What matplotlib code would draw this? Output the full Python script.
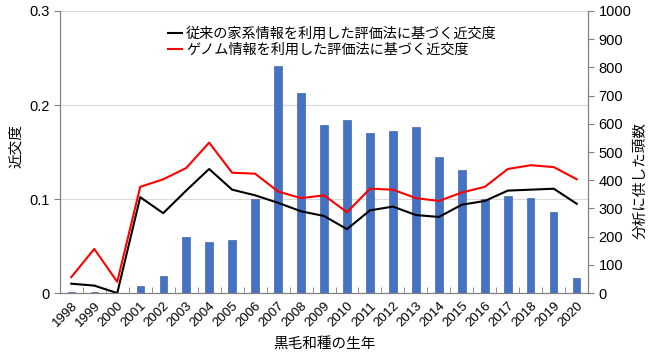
import matplotlib.pyplot as plt

plt.rcParams["font.family"] = ["Liberation Sans", "Noto Sans CJK JP", "DejaVu Sans"]

years = [str(y) for y in range(1998, 2021)]

# inbreeding coefficient, pedigree-based method
pedigree = [0.010, 0.008, 0.000, 0.102, 0.085, 0.109, 0.132, 0.110, 0.104, 0.096,
            0.087, 0.082, 0.068, 0.088, 0.092, 0.083, 0.081, 0.094, 0.098, 0.109,
            0.110, 0.111, 0.095]
# inbreeding coefficient, genome-based method
genome = [0.017, 0.047, 0.012, 0.113, 0.121, 0.133, 0.160, 0.128, 0.127, 0.108,
          0.101, 0.104, 0.086, 0.111, 0.110, 0.101, 0.098, 0.107, 0.113, 0.132,
          0.136, 0.134, 0.121]
# number of animals analysed
heads = [5, 3, 0, 25, 60, 200, 181, 188, 332, 804, 710, 596, 612, 566, 574, 588,
         482, 437, 333, 344, 338, 287, 52]

label_ped = "従来の家系情報を利用した評価法に基づく近交度"
label_gen = "ゲノム情報を利用した評価法に基づく近交度"

fig = plt.figure(figsize=(6.5, 3.54), dpi=100)
ax = fig.add_axes([0.092, 0.172, 0.813, 0.797])
ax2 = ax.twinx()

x = list(range(len(years)))

# bars on the right axis, behind the lines
ax2.bar(x, heads, width=0.32, color="#4472C4", edgecolor="#2F5597", linewidth=0.4)
ax2.set_ylim(0, 1000)
ax2.set_yticks(range(0, 1001, 100))
for v in [0.1, 0.2, 0.3]:
    ax2.axhline(v / 0.3 * 1000, color="#d9d9d9", lw=0.8, zorder=0)
ax2.set_ylabel("分析に供した頭数", fontsize=10.5, rotation=90)
ax2.yaxis.set_label_coords(1.085, 0.40)

ax.set_zorder(ax2.get_zorder() + 1)
ax.patch.set_visible(False)

ax.plot(x, pedigree, color="black", lw=1.5, label=label_ped)
ax.plot(x, genome, color="red", lw=1.5, label=label_gen)

ax.set_ylim(0, 0.3)
ax.set_yticks([0, 0.1, 0.2, 0.3])
ax.set_yticklabels(["0", "0.1", "0.2", "0.3"])
ax.set_xlim(-0.5, len(years) - 0.5)
ax.set_xticks(x)
ax.set_xticklabels(years, rotation=45, ha="right", rotation_mode="anchor")
ax.set_xticks([i + 0.5 for i in x[:-1]], minor=True)
ax.tick_params(axis="x", which="major", length=0, labelsize=9.5, pad=5)
ax.tick_params(axis="x", which="minor", direction="in", length=4, color="#808080")
ax.tick_params(axis="y", labelsize=10.5, length=4, color="#808080")
ax2.tick_params(axis="y", labelsize=10.5, length=4, color="#808080")

ax.set_ylabel("近交度", fontsize=10.5)
ax.yaxis.set_label_coords(-0.07, 0.52)
ax.set_xlabel("黒毛和種の生年", fontsize=10.5, labelpad=5)

for a in (ax, ax2):
    a.spines["top"].set_visible(False)
    for s in ("left", "right", "bottom"):
        a.spines[s].set_color("#808080")

ax.legend(loc="upper left", bbox_to_anchor=(0.18, 0.99), frameon=False,
          fontsize=10.2, handlelength=1.0, handletextpad=0.3, labelspacing=0.15)

fig.savefig("out.png", dpi=100)
